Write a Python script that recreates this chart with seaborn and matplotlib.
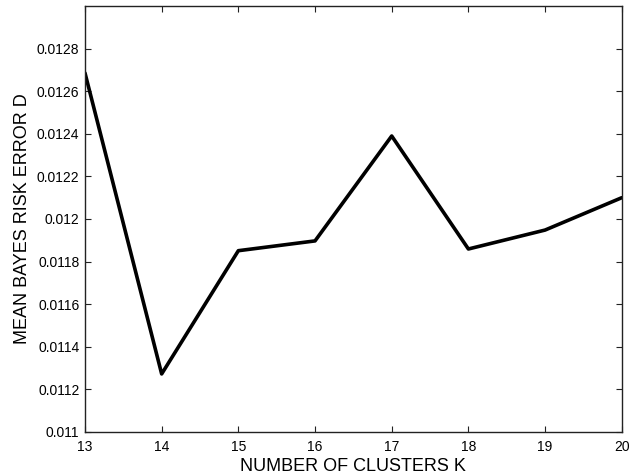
import matplotlib
matplotlib.use("Agg")
import matplotlib.pyplot as plt
import seaborn as sns
import pandas as pd

clusters = [13, 14, 15, 16, 17, 18, 19, 20]
risk_error = [0.012686, 0.011272, 0.011851, 0.011897, 0.01239, 0.011859, 0.011948, 0.0121]
yticks = [0.011, 0.0112, 0.0114, 0.0116, 0.0118, 0.012, 0.0122, 0.0124, 0.0126, 0.0128]
ytick_labels = ["0.011", "0.0112", "0.0114", "0.0116", "0.0118", "0.012", "0.0122", "0.0124", "0.0126", "0.0128"]

sns.set_style("ticks")
plt.rcParams['font.family'] = ['Liberation Sans', 'DejaVu Sans']

df = pd.DataFrame({"k": clusters, "d": risk_error})

fig = plt.figure(figsize=(6.39, 4.74), dpi=100)
ax = fig.add_axes([0.133, 0.089, 0.840, 0.898])
sns.lineplot(data=df, x="k", y="d", ax=ax, color="black", linewidth=2.6)

ax.set_xlim(13, 20)
ax.set_ylim(0.011, 0.013)
ax.set_xticks(clusters)
ax.set_xticklabels([str(c) for c in clusters], fontsize=10)
ax.set_yticks(yticks)
ax.set_yticklabels(ytick_labels, fontsize=10)
ax.tick_params(direction="in", length=4, width=0.8, top=True, right=True,
               colors="#222222", labelcolor="black")
ax.tick_params(axis="x", pad=6)
ax.tick_params(axis="y", pad=4)
for s in ax.spines.values():
    s.set_visible(True)
    s.set_linewidth(1.0)
    s.set_color("#222222")
ax.set_xlabel("NUMBER OF CLUSTERS K", fontsize=13, labelpad=3, color="black")
ax.set_ylabel("MEAN BAYES RISK ERROR D", fontsize=13, labelpad=4, color="black")

fig.savefig("out.png", dpi=100)
